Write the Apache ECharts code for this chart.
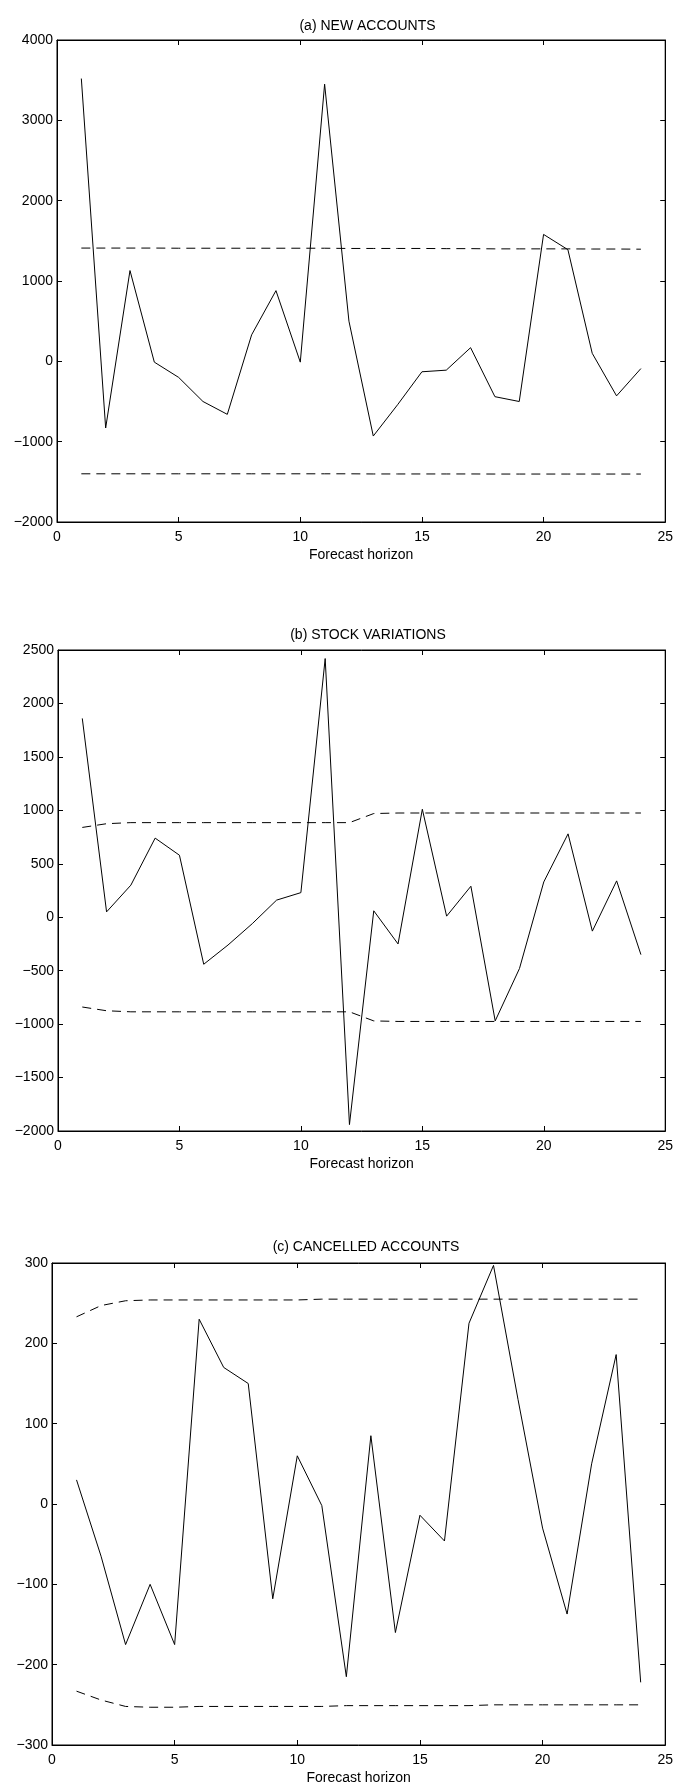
<!DOCTYPE html>
<html><head><meta charset="utf-8">
<script src="https://cdn.jsdelivr.net/npm/echarts@6/dist/echarts.min.js"></script>
<style>html,body{margin:0;padding:0;background:#fff}#c{width:676px;height:1786px}</style>
</head><body><div id="c"></div>
<script>
var horizon = [1,2,3,4,5,6,7,8,9,10,11,12,13,14,15,16,17,18,19,20,21,22,23,24];

var titles = ['(a) NEW ACCOUNTS', '(b) STOCK VARIATIONS', '(c) CANCELLED ACCOUNTS'];
var xAxisName = 'Forecast horizon';
var xTicks = {min: 0, max: 25, interval: 5};

var newAccounts = [3520,-830,1130,-10,-200,-500,-660,330,880,-10,3450,500,-930,-540,-130,-110,170,-440,-500,1580,1390,100,-430,-90];
var newAccountsUpper = [1410,1410,1410,1410,1408,1408,1408,1408,1408,1408,1408,1405,1405,1405,1405,1403,1403,1400,1400,1400,1400,1398,1398,1396];
var newAccountsLower = [-1400,-1400,-1400,-1400,-1400,-1400,-1400,-1400,-1400,-1400,-1400,-1400,-1402,-1402,-1402,-1402,-1402,-1403,-1403,-1403,-1403,-1403,-1403,-1403];
var newAccountsTicks = {min: -2000, max: 4000, interval: 1000};

var stockVar = [1860,50,300,740,580,-440,-260,-60,160,230,2420,-1940,60,-250,1010,10,290,-970,-480,330,780,-130,340,-350];
var stockVarUpper = [840,875,885,885,885,885,885,885,885,885,885,885,970,975,975,975,975,975,975,975,975,975,975,975];
var stockVarLower = [-840,-875,-885,-885,-885,-885,-885,-885,-885,-885,-885,-885,-970,-975,-975,-975,-975,-975,-975,-975,-975,-975,-975,-975];
var stockVarTicks = {min: -2000, max: 2500, interval: 500};

var cancelled = [30,-65,-175,-100,-175,230,170,150,-118,60,-2,-215,85,-160,-14,-46,225,297,130,-30,-137,50,186,-222];
var cancelledUpper = [233,247,253,254,254,254,254,254,254,254,255,255,255,255,255,255,255,255,255,255,255,255,255,255];
var cancelledLower = [-233,-244,-252,-253,-253,-252,-252,-252,-252,-252,-252,-251,-251,-251,-251,-251,-251,-250,-250,-250,-250,-250,-250,-250];
var cancelledTicks = {min: -300, max: 300, interval: 100};

var FONT = '"Liberation Sans", Arial, sans-serif';
var grids = [
  {left: 57, right: 8, top: 40, height: 482},
  {left: 58, right: 8, top: 650, height: 481},
  {left: 52, right: 6, top: 1263, height: 484}
];
var centers = [362.5, 363, 361];
var titleTops = [14, 623, 1235];
var yTicks = [newAccountsTicks, stockVarTicks, cancelledTicks];
var panels = [
  [newAccounts, newAccountsUpper, newAccountsLower],
  [stockVar, stockVarUpper, stockVarLower],
  [cancelled, cancelledUpper, cancelledLower]
];

function pairs(vals){ return horizon.map(function(h,i){ return [h, vals[i]]; }); }
function neg(v){ return v < 0 ? '\u2212' + Math.abs(v) : String(v); }

var option = {backgroundColor: '#fff', animation: false, title: [], grid: [], xAxis: [], yAxis: [], series: []};
var line = {onZero: false, lineStyle: {color: '#000', width: 1}};
var tick = {show: true, inside: true, length: 5, lineStyle: {color: '#000', width: 1}};

for (var g = 0; g < 3; g++) {
  option.title.push({text: titles[g], left: centers[g], top: titleTops[g], textAlign: 'center',
    textStyle: {fontFamily: FONT, fontSize: 14, fontWeight: 'normal', color: '#000'}});
  option.grid.push(Object.assign({show: true, borderColor: '#000', borderWidth: 1, backgroundColor: 'transparent'}, grids[g]));
  option.xAxis.push({type: 'value', gridIndex: g, position: 'bottom', min: xTicks.min, max: xTicks.max, interval: xTicks.interval,
    name: xAxisName, nameLocation: 'middle', nameGap: 26,
    nameTextStyle: {fontFamily: FONT, fontSize: 14, color: '#000'},
    axisLine: line, axisTick: tick, splitLine: {show: false},
    axisLabel: {fontFamily: FONT, fontSize: 14, color: '#000', margin: 8}});
  option.xAxis.push({type: 'value', gridIndex: g, position: 'top', min: xTicks.min, max: xTicks.max, interval: xTicks.interval,
    axisLine: line, axisTick: tick, splitLine: {show: false}, axisLabel: {show: false}});
  option.yAxis.push({type: 'value', gridIndex: g, position: 'left', min: yTicks[g].min, max: yTicks[g].max, interval: yTicks[g].interval,
    axisLine: line, axisTick: tick, splitLine: {show: false},
    axisLabel: {fontFamily: FONT, fontSize: 14, color: '#000', margin: 4, formatter: neg}});
  option.yAxis.push({type: 'value', gridIndex: g, position: 'right', min: yTicks[g].min, max: yTicks[g].max, interval: yTicks[g].interval,
    axisLine: line, axisTick: tick, splitLine: {show: false}, axisLabel: {show: false}});
  var d = panels[g];
  option.series.push({type: 'line', xAxisIndex: 2*g, yAxisIndex: 2*g, data: pairs(d[0]), symbol: 'none',
    lineStyle: {color: '#000', width: 1}});
  option.series.push({type: 'line', xAxisIndex: 2*g, yAxisIndex: 2*g, data: pairs(d[1]), symbol: 'none',
    lineStyle: {color: '#000', width: 1, type: [9, 6]}});
  option.series.push({type: 'line', xAxisIndex: 2*g, yAxisIndex: 2*g, data: pairs(d[2]), symbol: 'none',
    lineStyle: {color: '#000', width: 1, type: [9, 6]}});
}

var chart = echarts.init(document.getElementById('c'), null, {renderer: 'canvas'});
chart.setOption(option);
</script></body></html>
